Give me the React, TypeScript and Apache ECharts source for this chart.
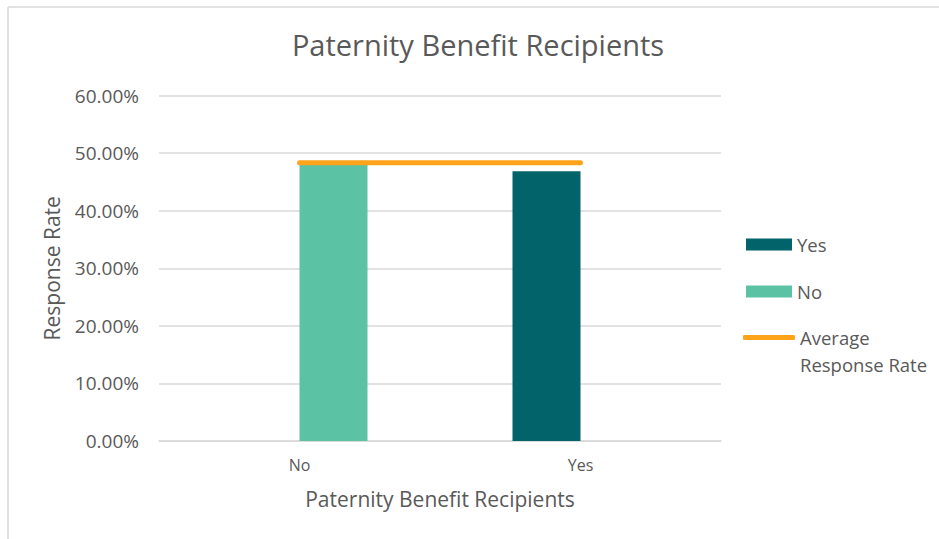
import React, { useEffect, useRef } from "react";
import * as echarts from "echarts";

const categories = ["No", "Yes"];
const yesValues = [null, 46.85];
const noValues = [48.5, null];
const averageValues = [48.33, 48.33];
const yTicks = [0, 10, 20, 30, 40, 50, 60];

const FONT = "'Open Sans', sans-serif";
const GRAY = "#595959";

export default function App() {
  const ref = useRef<HTMLDivElement>(null);
  useEffect(() => {
    if (!ref.current) return;
    const chart = echarts.init(ref.current, undefined, { renderer: "svg" });
    chart.setOption({
      animation: false,
      backgroundColor: "#ffffff",
      textStyle: { fontFamily: FONT },
      title: {
        text: "Paternity Benefit Recipients",
        left: 473,
        textAlign: "center",
        top: 25,
        textStyle: { fontFamily: FONT, fontSize: 29, fontWeight: "normal", color: GRAY },
      },
      graphic: [
        { type: "line", shape: { x1: 8, y1: 7, x2: 939, y2: 7 }, style: { stroke: "#D9D9D9", lineWidth: 1.5 } },
        { type: "line", shape: { x1: 8, y1: 7, x2: 8, y2: 539 }, style: { stroke: "#D9D9D9", lineWidth: 1.5 } },
      ],
      grid: { left: 159, right: 218, top: 95.5, bottom: 98, containLabel: false },
      legend: [
        {
          orient: "vertical",
          left: 741,
          top: 230,
          itemWidth: 46,
          itemHeight: 12,
          itemGap: 28,
          icon: "rect",
          data: ["Yes", "No"],
          textStyle: { fontFamily: FONT, fontSize: 18.5, color: GRAY, lineHeight: 12 },
        },
        {
          orient: "vertical",
          left: 738,
          top: 292,
          itemWidth: 52,
          itemHeight: 5,
          icon: "roundRect",
          data: ["Average Response Rate"],
          formatter: () => "\nAverage\nResponse Rate",
          textStyle: { fontFamily: FONT, fontSize: 18.5, color: GRAY, lineHeight: 27 },
        },
      ],
      xAxis: {
        type: "category",
        data: categories,
        name: "Paternity Benefit Recipients",
        nameLocation: "middle",
        nameGap: 47,
        nameTextStyle: { fontFamily: FONT, fontSize: 21, color: GRAY },
        axisLine: { lineStyle: { color: "#D9D9D9", width: 1.5 } },
        axisTick: { show: false },
        axisLabel: { fontFamily: FONT, fontSize: 16, color: GRAY, margin: 16 },
      },
      yAxis: {
        type: "value",
        min: 0,
        max: 60,
        interval: 10,
        name: "Response Rate",
        nameLocation: "middle",
        nameGap: 97,
        nameTextStyle: { fontFamily: FONT, fontSize: 21, color: GRAY },
        axisLine: { show: false },
        axisTick: { show: false },
        splitLine: { lineStyle: { color: "#D9D9D9", width: 1.5 } },
        axisLabel: {
          fontFamily: FONT,
          fontSize: 19,
          color: GRAY,
          margin: 20,
          formatter: (v: number) => (yTicks.includes(v) ? v.toFixed(2) + "%" : ""),
        },
      },
      series: [
        {
          name: "Yes",
          type: "bar",
          data: yesValues,
          barWidth: 68,
          barGap: "0%",
          itemStyle: { color: "#02636A" },
        },
        {
          name: "No",
          type: "bar",
          data: noValues,
          barWidth: 68,
          barGap: "0%",
          itemStyle: { color: "#5BC2A3" },
        },
        {
          name: "Average Response Rate",
          type: "line",
          data: averageValues,
          symbol: "none",
          z: 5,
          lineStyle: { color: "#FFA31A", width: 5, cap: "round" },
          itemStyle: { color: "#FFA31A" },
        },
      ],
    });
    return () => chart.dispose();
  }, []);
  return (
    <div
      ref={ref}
      style={{ position: "absolute", left: 0, top: 0, width: 939, height: 539 }}
    />
  );
}
